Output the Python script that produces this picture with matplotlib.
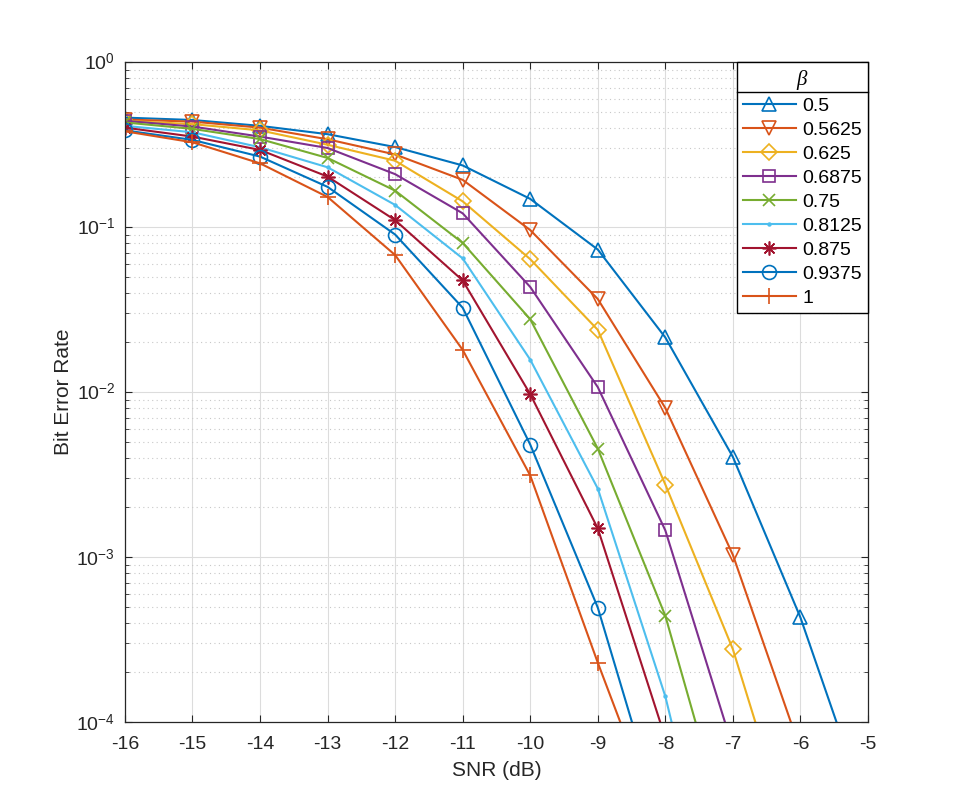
import numpy as np
import matplotlib
matplotlib.use('Agg')
import matplotlib.pyplot as plt
from matplotlib.lines import Line2D

plt.rcParams['font.family'] = ['Liberation Sans', 'DejaVu Sans']
plt.rcParams['mathtext.fontset'] = 'custom'
plt.rcParams['mathtext.rm'] = 'Liberation Sans'
plt.rcParams['mathtext.it'] = 'Liberation Serif:italic'
plt.rcParams['axes.unicode_minus'] = False

snr = [-16, -15, -14, -13, -12, -11, -10, -9, -8, -7, -6, -5]

# BER, one list per beta (last value is the one just below 1e-4)
ber_0500 = [0.46, 0.445, 0.41, 0.365, 0.305, 0.236, 0.148, 0.073, 0.0214, 0.00404, 4.3e-4, 2.8e-5]
ber_05625 = [0.448, 0.435, 0.40, 0.34, 0.275, 0.193, 0.0958, 0.0366, 0.0080, 0.00103, 6.8e-5]
ber_0625 = [0.44, 0.42, 0.385, 0.315, 0.252, 0.143, 0.0638, 0.0238, 0.00275, 2.76e-4, 1.3e-5]
ber_06875 = [0.44, 0.406, 0.353, 0.301, 0.209, 0.121, 0.0433, 0.0107, 0.00145, 7e-5]
ber_075 = [0.43, 0.393, 0.341, 0.262, 0.166, 0.080, 0.0276, 0.00454, 4.4e-4, 1.6e-5]
ber_08125 = [0.41, 0.375, 0.304, 0.23, 0.136, 0.0645, 0.0157, 0.0026, 1.43e-4, 3e-6]
ber_0875 = [0.40, 0.353, 0.293, 0.202, 0.11, 0.0474, 0.0097, 0.00149, 8e-5]
ber_09375 = [0.385, 0.337, 0.267, 0.175, 0.09, 0.0324, 0.0048, 4.94e-4, 2.1e-5]
ber_1 = [0.38, 0.326, 0.243, 0.152, 0.0676, 0.018, 0.00312, 2.29e-4, 1.9e-5]

betas = ['0.5', '0.5625', '0.625', '0.6875', '0.75', '0.8125', '0.875', '0.9375', '1']
curves = [ber_0500, ber_05625, ber_0625, ber_06875, ber_075, ber_08125, ber_0875, ber_09375, ber_1]
markers = ['^', 'v', 'D', 's', 'x', '.', (8, 2, 0), 'o', '+']
msizes = [10, 10, 8, 8, 8, 4, 10, 10, 11]
colors = ['#0072BD', '#D95319', '#EDB120', '#7E2F8E', '#77AC30',
          '#4DBEEE', '#A2142F', '#0072BD', '#D95319']

fig = plt.figure(figsize=(9.61, 8.11), dpi=100)
ax = fig.add_axes([0.13, 0.1097, 0.7732, 0.8139])

for lab, ber, mk, ms, c in zip(betas, curves, markers, msizes, colors):
    ax.semilogy(snr[:len(ber)], ber, '-', marker=mk, ms=ms, color=c,
                mfc='none', mew=1.2, lw=1.5, label=lab)

ax.set_xlim(-16, -5)
ax.set_ylim(1e-4, 1)
ax.set_xticks(range(-16, -4))
ax.set_yticks([1e-4, 1e-3, 1e-2, 1e-1, 1])
ax.set_yticklabels(['$10^{-4}$', '$10^{-3}$', '$10^{-2}$', '$10^{-1}$', '$10^{0}$'])

ax.grid(True, which='major', color='#dcdcdc', lw=0.8)
ax.grid(True, which='minor', axis='y', color='#c8c8c8', lw=0.8, ls=(0, (1, 3)))
ax.set_axisbelow(True)
ax.tick_params(which='both', direction='in', top=True, right=True,
               labelsize=14, colors='#262626')
ax.tick_params(which='major', length=5)
ax.tick_params(which='minor', length=3)
ax.tick_params(axis='x', pad=10)
ax.tick_params(axis='y', pad=7)
for s in ax.spines.values():
    s.set_color('#262626')
    s.set_linewidth(0.9)

ax.set_xlabel('SNR (dB)', fontsize=15, color='#262626', labelpad=6)
ax.set_ylabel('Bit Error Rate', fontsize=15, color='#262626', labelpad=2)

leg = ax.legend(title=r'$\mathit{\beta}$', loc='upper right', fontsize=14,
                title_fontsize=15, handlelength=2.7, borderaxespad=0,
                fancybox=False, framealpha=1, edgecolor='black',
                labelspacing=0.33, borderpad=0.3, handletextpad=0.35)
leg.get_frame().set_linewidth(1.0)
leg._legend_box.sep = 4

# separator line under the legend title
fig.canvas.draw()
fb = leg.get_frame().get_window_extent()
inv = fig.transFigure.inverted()
ysep = inv.transform((0, fb.y1 - 30))[1]
x0 = inv.transform((fb.x0, 0))[0]
x1 = inv.transform((fb.x1, 0))[0]
fig.add_artist(Line2D([x0, x1], [ysep, ysep], color='black', lw=1.0,
                      transform=fig.transFigure))

fig.savefig('out.png', dpi=100)
